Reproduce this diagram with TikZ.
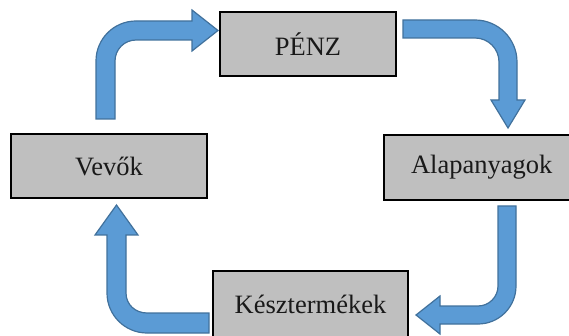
\documentclass[tikz,border=0pt]{standalone}
\usepackage{fontspec}
\setmainfont{Liberation Serif}
\definecolor{arrowfill}{HTML}{5B9BD5}
\definecolor{arrowline}{HTML}{41719C}
\definecolor{boxgray}{HTML}{BFBFBF}
\begin{document}
\begin{tikzpicture}[x=1pt,y=-1pt,
  box/.style={draw=black, fill=boxgray, line width=2pt, inner sep=0pt, outer sep=0pt,
    font=\fontsize{26.5}{30}\selectfont, text=black!90},
  blockarrow/.style={fill=arrowfill, draw=arrowline, line width=1.2pt, line join=miter}]
\useasboundingbox (0,0) rectangle (569,336);
\clip (0,0) rectangle (569,336);
% boxes
\node[box, minimum width=176pt, minimum height=64pt] (penz) at (308,44) {PÉNZ};
\node[box, minimum width=196pt, minimum height=64pt] (vevok) at (109,166) {Vevők};
\node[box, minimum width=186pt, minimum height=65pt, text width=186pt, align=left] (alap) at (477,167.5) {\hspace*{27pt}Alapanyagok};
\node[box, minimum width=195pt, minimum height=66pt] (kesz) at (310.5,304) {Késztermékek};
% arrow: Vevők -> PÉNZ
\path[blockarrow] (96,119) -- (96,61) .. controls (96,38.9) and (113.9,21) .. (136,21)
  -- (192,21) -- (192,10) -- (218,30.5) -- (192,51) -- (192,40) -- (136,40)
  .. controls (124.4,40) and (115,49.4) .. (115,61) -- (115,119) -- cycle;
% arrow: PÉNZ -> Alapanyagok
\path[blockarrow] (403,20) -- (475,20) .. controls (498.2,20) and (517,38.8) .. (517,62)
  -- (517,100) -- (525,100) -- (508,128) -- (491,100) -- (499,100) -- (499,62)
  .. controls (499,48.7) and (488.3,38) .. (475,38) -- (403,38) -- cycle;
% arrow: Alapanyagok -> Késztermékek
\path[blockarrow] (498,206) -- (516,206) -- (516,286) .. controls (516,307) and (499,324) .. (478,324)
  -- (440,324) -- (440,334) -- (416,315) -- (440,296) -- (440,306) -- (478,306)
  .. controls (489,306) and (498,297) .. (498,286) -- cycle;
% arrow: Késztermékek -> Vevők
\path[blockarrow] (209,333) -- (147,333) .. controls (124.9,333) and (107,315.1) .. (107,293)
  -- (107,235) -- (95,235) -- (116.5,205) -- (138,235) -- (126,235) -- (126,293)
  .. controls (126,304.6) and (135.4,313) .. (147,313) -- (209,313) -- cycle;
\end{tikzpicture}
\end{document}
